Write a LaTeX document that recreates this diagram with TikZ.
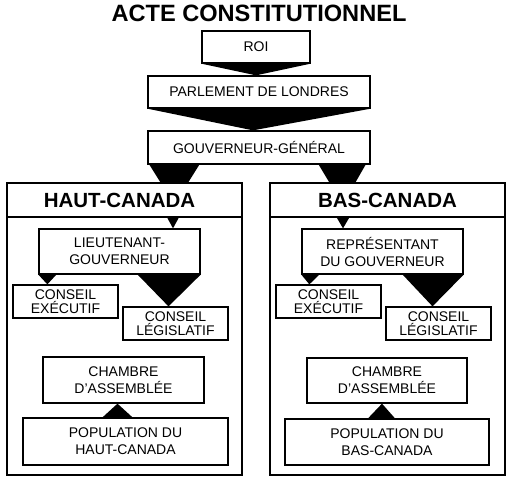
\documentclass[tikz,border=0pt]{standalone}
\usepackage{fontspec}
\setmainfont{Liberation Sans}
\usetikzlibrary{calc}

\begin{document}
\begin{tikzpicture}[x=1pt, y=-1pt,
            box/.style={draw, line width=1.3pt, fill=white, align=center, inner sep=0pt, font=\fontsize{14}{17}\selectfont},
            council/.style={box, font=\fontsize{14}{13.5}\selectfont, minimum width=105pt, minimum height=33pt},
            region/.style={draw, line width=1.3pt, fill=white, minimum width=235pt},
            head/.style={region, minimum height=34pt, font=\fontsize{20.5}{25}\selectfont\bfseries}]
            \useasboundingbox (0,0) rectangle (509,480);

            \node[font=\fontsize{23.6}{28}\selectfont\bfseries] (titre) at (259,13.5) {ACTE CONSTITUTIONNEL};
            \node[box, minimum width=108pt, minimum height=32pt] (roi) at (256,47) {ROI};
            \node[box, minimum width=222pt, minimum height=32pt] (parl) at (259,92) {PARLEMENT DE LONDRES};
            \node[box, minimum width=222pt, minimum height=33pt] (gouv) at (259,147.5) {GOUVERNEUR-GÉNÉRAL};

            \fill (roi.south west) -- (roi.south east) -- (roi.south |- parl.north) -- cycle;
            \fill (parl.south west) -- (parl.south east) -- ($(gouv.north)+(-6,0)$) -- cycle;
            \fill ($(gouv.south west)+(2,0)$) -- ($(gouv.south west)+(52,0)$) -- ($(gouv.south west)+(27,40)$) -- cycle;
            \fill ($(gouv.south east)+(-52,0)$) -- ($(gouv.south east)+(-5,0)$) -- ($(gouv.south east)+(-28,40)$) -- cycle;

            \node[region, minimum height=292pt] (hcframe) at (124.5,329) {};
            \node[head] (haut) at (124.5,200) {\hspace*{-10pt}HAUT-CANADA};
            \node[box, minimum width=161pt, minimum height=45pt] (lt) at (119.5,251.5) {LIEUTENANT-\\GOUVERNEUR};
            \node[council] (lexec) at (65.5,301.5) {CONSEIL\\EXÉCUTIF};
            \node[council] (lleg) at (175.5,323.5) {CONSEIL\\LÉGISLATIF};
            \node[box, minimum width=161pt, minimum height=46pt] (lch) at (123.5,380) {CHAMBRE\\D'ASSEMBLÉE};
            \node[box, minimum width=205pt, minimum height=47pt] (lpop) at (125.5,441.5) {POPULATION DU\\HAUT-CANADA};

            \fill ($(lt.north)+(47,-12)$) -- ($(lt.north)+(60,-12)$) -- ($(lt.north)+(53.5,0)$) -- cycle;
            \fill (lt.south west) -- ($(lt.south west)+(18,0)$) -- ($(lexec.north west)+(35,0)$) -- cycle;
            \fill ($(lt.south east)+(-63,0)$) -- (lt.south east) -- ($(lleg.north)+(-7,0)$) -- cycle;
            \fill ($(lpop.north)+(-23,0)$) -- ($(lpop.north)+(7,0)$) -- ($(lch.south)+(-6,0)$) -- cycle;

            \node[region, minimum height=292pt] (bcframe) at (387.5,329) {};
            \node[head] (bas) at (387.5,200) {BAS-CANADA};
            \node[box, minimum width=161pt, minimum height=45pt] (rep) at (382.5,251.5) {REPRÉSENTANT\\DU GOUVERNEUR};
            \node[council] (rexec) at (328.5,301.5) {CONSEIL\\EXÉCUTIF};
            \node[council] (rleg) at (438.5,323.5) {CONSEIL\\LÉGISLATIF};
            \node[box, minimum width=160pt, minimum height=45pt] (rch) at (387,380.5) {CHAMBRE\\D'ASSEMBLÉE};
            \node[box, minimum width=204pt, minimum height=46pt] (rpop) at (387,442) {POPULATION DU\\BAS-CANADA};

            \fill ($(rep.north)+(-46.5,-12)$) -- ($(rep.north)+(-32.5,-12)$) -- ($(rep.north)+(-39.5,0)$) -- cycle;
            \fill (rep.south west) -- ($(rep.south west)+(18,0)$) -- ($(rexec.north west)+(34,0)$) -- cycle;
            \fill ($(rep.south east)+(-61,0)$) -- (rep.south east) -- ($(rleg.north)+(-6,0)$) -- cycle;
            \fill ($(rpop.north)+(-19,0)$) -- ($(rpop.north)+(8,0)$) -- ($(rch.south)+(-5,0)$) -- cycle;
        \end{tikzpicture}
\end{document}
